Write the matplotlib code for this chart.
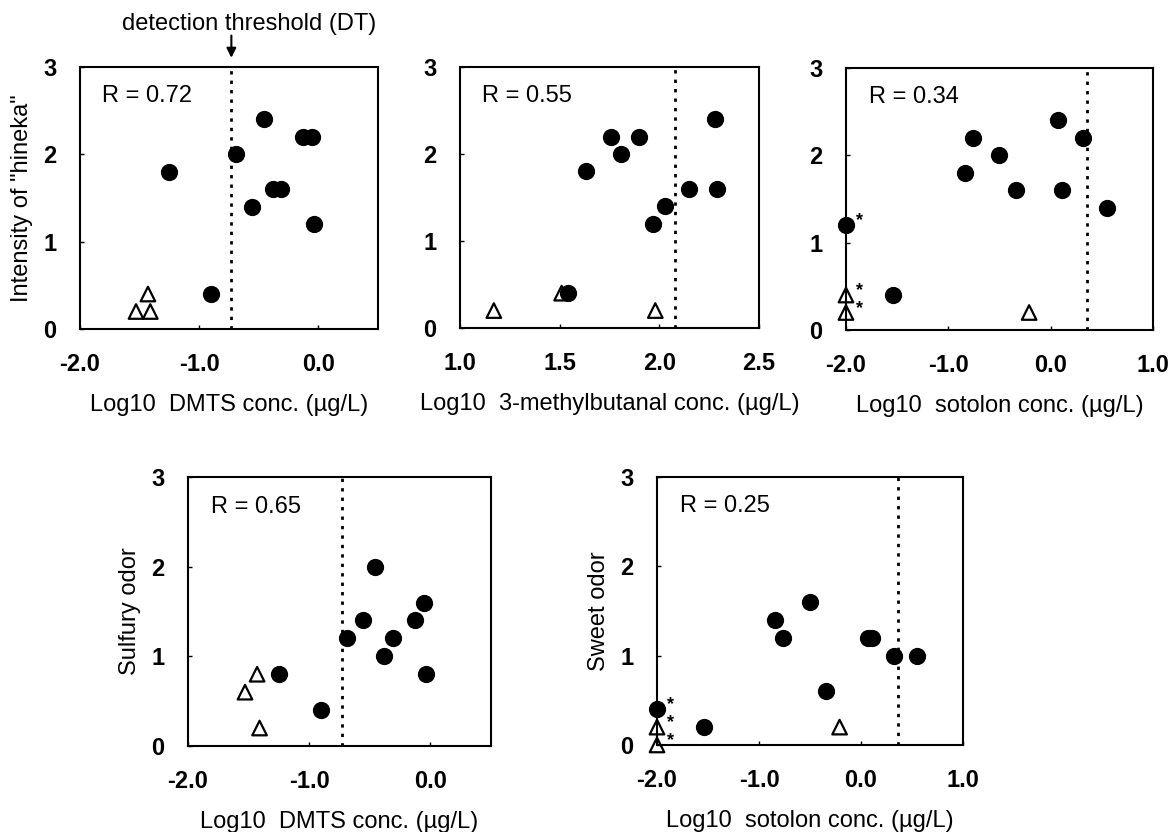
import matplotlib
matplotlib.use("Agg")
import matplotlib.pyplot as plt
from matplotlib.ticker import FormatStrFormatter

plt.rcParams['font.family'] = ['Liberation Sans', 'DejaVu Sans']

# DMTS (log10 ug/L)
dmts_x = [-1.25, -0.90, -0.69, -0.56, -0.46, -0.38, -0.31, -0.13, -0.05, -0.04]
dmts_hineka = [1.8, 0.4, 2.0, 1.4, 2.4, 1.6, 1.6, 2.2, 2.2, 1.2]
dmts_sulfury = [0.8, 0.4, 1.2, 1.4, 2.0, 1.0, 1.2, 1.4, 1.6, 0.8]
dmts_tri_x = [-1.53, -1.43, -1.41]
dmts_tri_hineka = [0.2, 0.4, 0.2]
dmts_tri_sulfury = [0.6, 0.8, 0.2]
dmts_dt = -0.73

# 3-methylbutanal
mb_x = [1.54, 1.63, 1.76, 1.81, 1.90, 1.97, 2.03, 2.15, 2.28, 2.29]
mb_hineka = [0.4, 1.8, 2.2, 2.0, 2.2, 1.2, 1.4, 1.6, 2.4, 1.6]
mb_tri_x = [1.17, 1.51, 1.98]
mb_tri_hineka = [0.2, 0.4, 0.2]
mb_dt = 2.08

# sotolon
sot_x = [-2.0, -1.54, -0.84, -0.76, -0.50, -0.34, 0.07, 0.11, 0.32, 0.55]
sot_hineka = [1.2, 0.4, 1.8, 2.2, 2.0, 1.6, 2.4, 1.6, 2.2, 1.4]
sot_sweet = [0.4, 0.2, 1.4, 1.2, 1.6, 0.6, 1.2, 1.2, 1.0, 1.0]
sot_star = [True, False, False, False, False, False, False, False, False, False]
sot_tri_x = [-2.0, -2.0, -0.21]
sot_tri_hineka = [0.4, 0.2, 0.2]
sot_tri_sweet = [0.2, 0.0, 0.2]
sot_tri_star = [True, True, False]
sot_dt = 0.36

r_values = ['0.72', '0.55', '0.34', '0.65', '0.25']

FS = 17


def setup_axes(ax, xlim, xticks, xlabel, ylabel=None):
    ax.set_xlim(*xlim)
    ax.set_ylim(0, 3)
    ax.set_xticks(xticks)
    ax.set_yticks([0, 1, 2, 3])
    ax.xaxis.set_major_formatter(FormatStrFormatter('%.1f'))
    ax.tick_params(direction='in', length=3, width=1, pad=17, labelsize=FS)
    for lab in ax.get_xticklabels() + ax.get_yticklabels():
        lab.set_fontweight('bold')
    for sp in ax.spines.values():
        sp.set_linewidth(1.5)
    ax.set_xlabel(xlabel, fontsize=FS, labelpad=13)
    if ylabel:
        ax.set_ylabel(ylabel, fontsize=FS, labelpad=7)


def draw_panel(ax, cx, cy, tx, ty, dt, r, cstar=None, tstar=None):
    ax.axvline(dt, color='black', lw=2, ls=(0, (1.2, 2.2)), zorder=1)
    ax.scatter(tx, ty, marker='^', s=110, facecolors='none', edgecolors='black',
               linewidths=1.6, zorder=3, clip_on=False)
    ax.scatter(cx, cy, marker='o', s=130, color='black', zorder=4, clip_on=False)
    for xs, ys, flags in ((cx, cy, cstar), (tx, ty, tstar)):
        if flags is None:
            continue
        for x, y, f in zip(xs, ys, flags):
            if f:
                ax.annotate('*', (x, y), xytext=(10, 3), textcoords='offset points',
                            fontsize=13, fontweight='bold', ha='center', va='center')
    ax.text(0.075, 0.89, 'R = ' + r, transform=ax.transAxes, fontsize=FS,
            ha='left', va='center')


fig = plt.figure(figsize=(11.68, 8.32), dpi=100)
ax1 = fig.add_axes([0.0685, 0.6046, 0.2551, 0.3149])
ax2 = fig.add_axes([0.3938, 0.6058, 0.2560, 0.3137])
ax3 = fig.add_axes([0.7243, 0.6034, 0.2628, 0.3149])
ax4 = fig.add_axes([0.1610, 0.1034, 0.2594, 0.3233])
ax5 = fig.add_axes([0.5625, 0.1046, 0.2620, 0.3221])

draw_panel(ax1, dmts_x, dmts_hineka, dmts_tri_x, dmts_tri_hineka, dmts_dt, r_values[0])
setup_axes(ax1, (-2, 0.5), [-2, -1, 0], 'Log10  DMTS conc. (µg/L)', 'Intensity of "hineka"')

draw_panel(ax2, mb_x, mb_hineka, mb_tri_x, mb_tri_hineka, mb_dt, r_values[1])
setup_axes(ax2, (1.0, 2.5), [1.0, 1.5, 2.0, 2.5], 'Log10  3-methylbutanal conc. (µg/L)')

draw_panel(ax3, sot_x, sot_hineka, sot_tri_x, sot_tri_hineka, sot_dt, r_values[2],
           sot_star, sot_tri_star)
setup_axes(ax3, (-2, 1), [-2, -1, 0, 1], 'Log10  sotolon conc. (µg/L)')

draw_panel(ax4, dmts_x, dmts_sulfury, dmts_tri_x, dmts_tri_sulfury, dmts_dt, r_values[3])
setup_axes(ax4, (-2, 0.5), [-2, -1, 0], 'Log10  DMTS conc. (µg/L)', 'Sulfury odor')

draw_panel(ax5, sot_x, sot_sweet, sot_tri_x, sot_tri_sweet, sot_dt, r_values[4],
           sot_star, sot_tri_star)
setup_axes(ax5, (-2, 1), [-2, -1, 0, 1], 'Log10  sotolon conc. (µg/L)', 'Sweet odor')

# detection threshold callout above the first panel
trans = ax1.get_xaxis_transform()
ax1.annotate('', xy=(dmts_dt, 1.035), xytext=(dmts_dt, 1.12), xycoords=trans,
             textcoords=trans,
             arrowprops=dict(arrowstyle='-|>', color='black', lw=1.5,
                             mutation_scale=14, shrinkA=0, shrinkB=0))
ax1.text(-0.58, 1.165, 'detection threshold (DT)', transform=trans, fontsize=FS,
         ha='center', va='center')

fig.savefig('out.png', dpi=100)
